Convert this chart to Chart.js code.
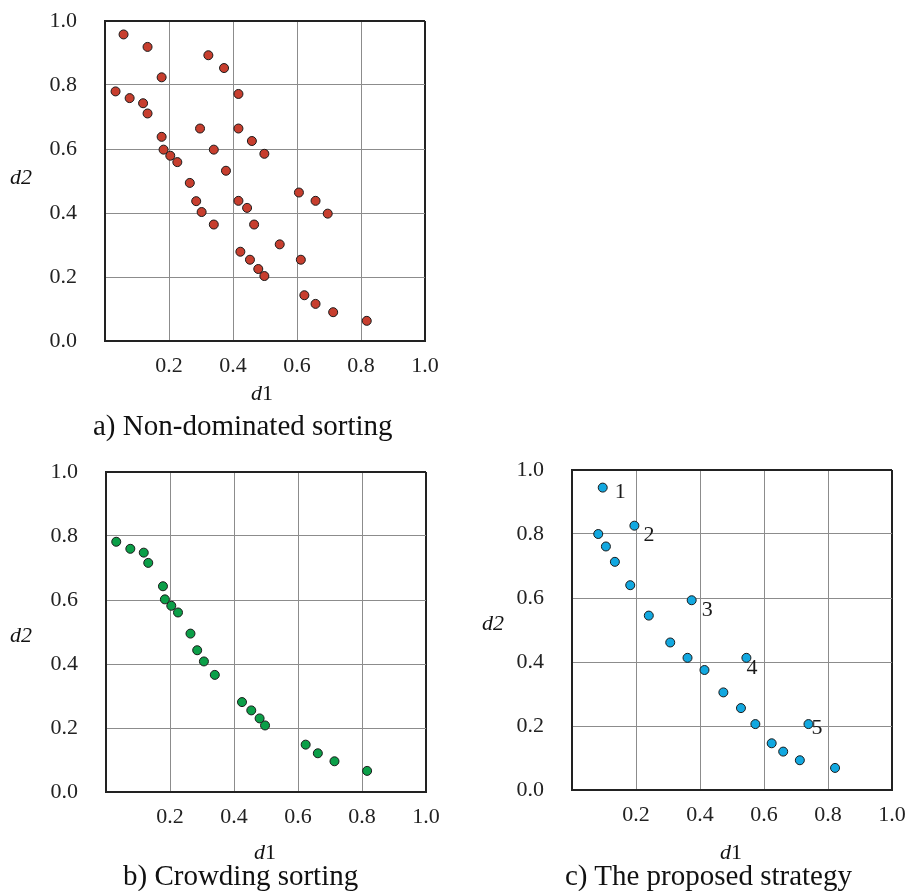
<!DOCTYPE html>
<html>
<head>
<meta charset="utf-8">
<script src="https://cdn.jsdelivr.net/npm/chart.js@4.4.1/dist/chart.umd.min.js"></script>
<style>
  html, body { margin: 0; padding: 0; background: #fff; }
  body { width: 905px; height: 891px; position: relative; overflow: hidden;
         font-family: "Liberation Serif", "Times New Roman", serif; color: #111; }
  .box { position: absolute; width: 445px; height: 391px; }
  .lbl { position: absolute; font-size: 22px; line-height: 1; white-space: nowrap; }
  .cap { position: absolute; font-size: 29px; line-height: 1; white-space: nowrap; }
</style>
</head>
<body>
<div class="box" style="left:0px;top:0px"><canvas id="chartA" width="445" height="391"></canvas></div>
<div class="box" style="left:1px;top:451px"><canvas id="chartB" width="445" height="391"></canvas></div>
<div class="box" style="left:467px;top:449px"><canvas id="chartC" width="445" height="391"></canvas></div>

<div class="lbl" style="left:10px;top:166px"><i>d2</i></div>
<div class="lbl" style="left:251px;top:382px"><i>d</i>1</div>
<div class="cap" style="left:93px;top:411px">a) Non-dominated sorting</div>

<div class="lbl" style="left:10px;top:624px"><i>d2</i></div>
<div class="lbl" style="left:254px;top:841px"><i>d</i>1</div>
<div class="cap" style="left:123px;top:861px">b) Crowding sorting</div>

<div class="lbl" style="left:482px;top:612px"><i>d2</i></div>
<div class="lbl" style="left:720px;top:841px"><i>d</i>1</div>
<div class="cap" style="left:565px;top:861px">c) The proposed strategy</div>

<script>
// ---------------- data ----------------
const tickValues = [0.0, 0.2, 0.4, 0.6, 0.8, 1.0];

// a) Non-dominated sorting
const ndsD1 = [0.058,0.133,0.177,0.323,0.372,0.033,0.077,0.119,0.133,0.417,
               0.297,0.417,0.459,0.177,0.183,0.204,0.226,0.340,0.498,0.378,
               0.265,0.285,0.302,0.340,0.417,0.444,0.466,0.606,0.658,0.696,
               0.546,0.612,0.423,0.453,0.479,0.498,0.623,0.658,0.713,0.818];
const ndsD2 = [0.958,0.919,0.824,0.893,0.853,0.780,0.759,0.743,0.711,0.772,
               0.664,0.664,0.625,0.638,0.598,0.579,0.559,0.598,0.585,0.532,
               0.494,0.437,0.403,0.364,0.438,0.416,0.364,0.464,0.438,0.398,
               0.302,0.254,0.279,0.254,0.225,0.203,0.143,0.116,0.090,0.063];

// b) Crowding sorting
const crowdD1 = [0.032,0.076,0.118,0.132,0.178,0.184,0.204,0.225,0.264,0.285,
                 0.306,0.340,0.425,0.454,0.480,0.497,0.624,0.662,0.714,0.816];
const crowdD2 = [0.782,0.760,0.748,0.716,0.643,0.602,0.582,0.561,0.495,0.443,
                 0.408,0.366,0.281,0.255,0.230,0.208,0.148,0.121,0.096,0.066];

// c) The proposed strategy
const propD1 = [0.096,0.195,0.082,0.106,0.134,0.182,0.240,0.374,0.307,0.361,
                0.545,0.414,0.473,0.528,0.573,0.739,0.624,0.660,0.712,0.822];
const propD2 = [0.945,0.826,0.800,0.761,0.713,0.640,0.545,0.593,0.461,0.413,
                0.413,0.375,0.305,0.256,0.206,0.206,0.146,0.120,0.093,0.069];
const propLabelText  = ['1','2','3','4','5'];
const propLabelIndex = [0, 1, 7, 10, 15];

// ---------------- styles ----------------
const FONT = '"Liberation Serif", "Times New Roman", serif';
const labelOffsets = [[12,5],[9,10],[10,10],[0,10],[3,4]];

Chart.defaults.font.family = FONT;

const isOne = v => Math.abs(v - 1) < 1e-9;
const fmt = v => (Math.round(v * 10) / 10).toFixed(1);

const pointLabels = {
  id: 'pointLabels',
  afterDatasetsDraw(chart, args, opts) {
    if (!opts || !opts.text) return;
    const {ctx} = chart;
    const xs = chart.scales.x, ys = chart.scales.y;
    ctx.save();
    ctx.font = '22px ' + FONT;
    ctx.fillStyle = '#1a1a1a';
    ctx.textAlign = 'left';
    ctx.textBaseline = 'middle';
    opts.text.forEach((t, i) => {
      const idx = opts.index[i];
      const px = xs.getPixelForValue(opts.d1[idx]);
      const py = ys.getPixelForValue(opts.d2[idx]);
      const o = opts.offsets[i];
      ctx.fillText(t, px + o[0], py + o[1]);
    });
    ctx.restore();
  }
};

function makeChart(id, d1, d2, fill, labelOpts) {
  const pts = d1.map((x, i) => ({x: x, y: d2[i]}));
  const gridCfg = {
    drawTicks: false,
    color: c => isOne(c.tick.value) ? '#222' : '#8c8c8c',
    lineWidth: c => isOne(c.tick.value) ? 2 : 1
  };
  const tickFont = {family: FONT, size: 22};
  return new Chart(document.getElementById(id), {
    type: 'scatter',
    data: {
      datasets: [{
        data: pts,
        backgroundColor: fill,
        borderColor: '#1a1a1a',
        borderWidth: 1,
        pointRadius: 4.5,
        pointHoverRadius: 4.5
      }]
    },
    options: {
      responsive: false,
      animation: false,
      events: [],
      layout: {padding: {top: 21, right: 20, left: 0, bottom: 0}},
      plugins: {
        legend: {display: false},
        tooltip: {enabled: false},
        pointLabels: labelOpts || {}
      },
      scales: {
        x: {
          type: 'linear', min: 0, max: 1,
          afterBuildTicks: s => { s.ticks = tickValues.map(v => ({value: v})); },
          ticks: {
            font: tickFont, color: '#222', padding: 12, maxRotation: 0, autoSkip: false,
            callback: v => Math.abs(v) < 1e-9 ? '' : fmt(v)
          },
          grid: gridCfg,
          border: {display: true, color: '#222', width: 2},
          afterFit: s => { s.height = 50; s.paddingLeft = 0; s.paddingRight = 0; }
        },
        y: {
          type: 'linear', min: 0, max: 1,
          afterBuildTicks: s => { s.ticks = tickValues.map(v => ({value: v})); },
          ticks: {
            font: tickFont, color: '#222', padding: 28, autoSkip: false,
            callback: v => fmt(v)
          },
          grid: gridCfg,
          border: {display: true, color: '#222', width: 2},
          afterFit: s => { s.width = 105; s.paddingTop = 0; s.paddingBottom = 0; }
        }
      }
    },
    plugins: [pointLabels]
  });
}

makeChart('chartA', ndsD1, ndsD2, '#c73e2e');
makeChart('chartB', crowdD1, crowdD2, '#0b9f48');
makeChart('chartC', propD1, propD2, '#12a8e0', {
  text: propLabelText, index: propLabelIndex, d1: propD1, d2: propD2, offsets: labelOffsets
});
</script>
</body>
</html>
